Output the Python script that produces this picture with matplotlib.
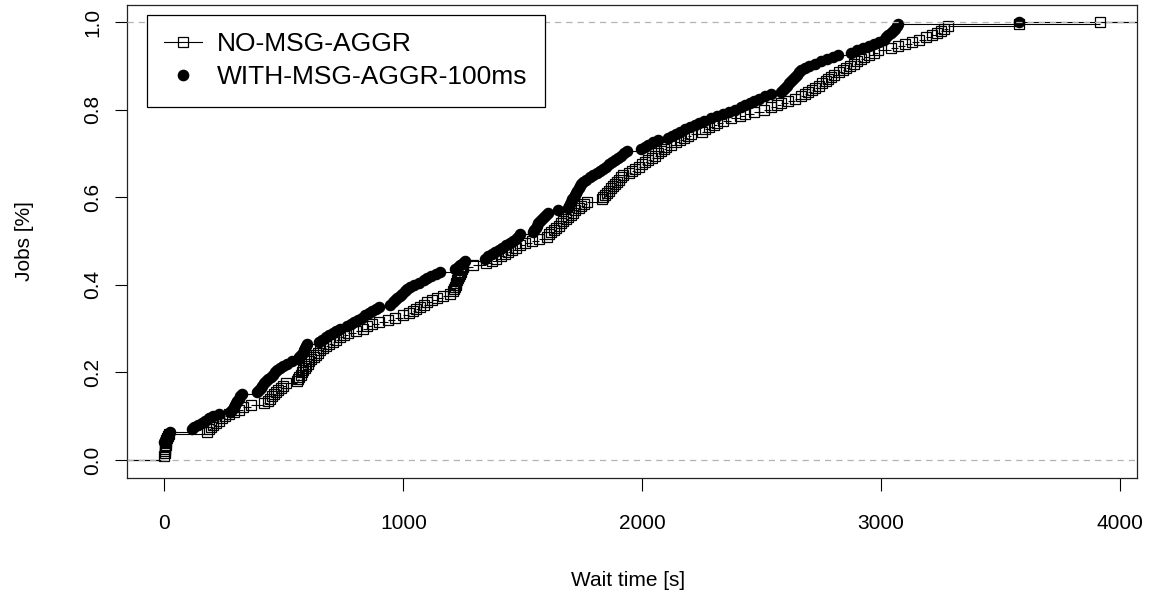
import numpy as np
import matplotlib
matplotlib.use("Agg")
import matplotlib.pyplot as plt
from matplotlib.lines import Line2D

# ---- data: sorted wait times [s] ----
no_aggr = [
    0, 0, 1, 2, 3, 4, 5, 6, 8, 10, 13, 17,
    178, 186, 195, 204, 215, 228, 242,
    255, 270, 290, 310, 328,
    362, 415,
    432, 440, 450, 458, 468, 476, 486, 498, 510,
    556, 560, 565, 570, 576, 582, 588, 594, 600,
    606, 615, 624, 633, 642, 652, 662, 675, 690, 705, 720, 734,
    750, 770, 800, 830, 850, 870,
    900, 935, 965, 1000, 1025,
    1040, 1055, 1070, 1085, 1100, 1120, 1140, 1165, 1195,
    1210, 1213, 1216, 1219, 1222, 1226, 1230, 1234, 1238, 1242, 1246, 1250,
    1290, 1345,
    1370, 1390, 1410, 1425, 1440, 1455, 1470, 1488,
    1510, 1540, 1570, 1600,
    1610, 1620, 1630, 1640, 1650, 1660, 1670, 1680, 1690, 1700, 1710, 1720,
    1735, 1745, 1755, 1770,
    1830, 1838, 1846, 1854, 1862, 1870, 1878, 1886, 1894, 1902, 1910, 1920,
    1945, 1958, 1970, 1985, 2000, 2012, 2025, 2040, 2052, 2065, 2078, 2090,
    2100, 2120, 2140, 2160, 2175, 2190, 2204,
    2250, 2265, 2280, 2300, 2315,
    2340, 2370, 2410,
    2430, 2470, 2510, 2540, 2565,
    2580, 2610, 2640, 2665,
    2680, 2695, 2710, 2725, 2740, 2755, 2770, 2780, 2790, 2805,
    2825, 2840, 2855, 2870, 2885, 2900, 2915, 2930, 2950, 2970, 2988,
    3040, 3070, 3100, 3130, 3160, 3190, 3215, 3235, 3250, 3265, 3280,
    3580, 3915,
]

with_aggr = [
    0, 0, 0, 0, 0, 0, 0, 0, 2, 5, 9, 15, 22,
    115, 125, 140, 155, 170, 185, 205, 228,
    275, 282, 290, 296, 300, 304, 310, 318, 326,
    388, 395, 402, 410, 418, 426, 435, 444, 453, 462, 472, 484, 498, 515, 535,
    558, 565, 572, 578, 583, 588, 593, 597,
    645, 660, 675, 690, 705, 720, 735,
    765, 780, 795, 810, 825, 840, 855, 870, 885, 900,
    945, 955, 965, 975, 985, 995, 1005, 1015, 1028,
    1045, 1065, 1085, 1100, 1115, 1135, 1152,
    1218, 1228, 1238, 1248, 1258,
    1340, 1355, 1370, 1385, 1400, 1415, 1430, 1445, 1458, 1470, 1480, 1490,
    1542, 1548, 1554, 1560, 1566, 1572, 1580, 1588, 1596, 1604,
    1646,
    1688, 1693, 1698, 1703, 1708, 1713, 1718, 1723, 1728, 1734, 1740, 1746, 1754,
    1765, 1780, 1795, 1810, 1822, 1835, 1848, 1860, 1872, 1885, 1898, 1910,
    1925, 1938,
    1995, 2010, 2025, 2045, 2065,
    2108, 2125, 2140, 2160, 2180, 2200, 2220, 2240, 2258,
    2290, 2315, 2340, 2365, 2390, 2412,
    2430, 2450, 2470, 2490, 2515, 2538,
    2582, 2590, 2598, 2606, 2614, 2622, 2630, 2640, 2650, 2658, 2666,
    2680, 2700, 2725, 2750, 2775, 2800, 2820,
    2875, 2900, 2925, 2950, 2970, 2990, 3012,
    3020, 3030, 3040, 3050, 3058, 3065, 3072,
    3580,
]

series_labels = ["NO-MSG-AGGR", "WITH-MSG-AGGR-100ms"]
x_ticks = [0, 1000, 2000, 3000, 4000]
y_ticks = [0.0, 0.2, 0.4, 0.6, 0.8, 1.0]
x_label = "Wait time [s]"
y_label = "Jobs [%]"

plt.rcParams['font.family'] = ['Liberation Sans', 'DejaVu Sans']
FS = 15
FS_LEG = 19

W, H = 1149, 596
fig = plt.figure(figsize=(W / 100, H / 100), dpi=100)
ax_l, ax_r, ax_t, ax_b = 127, 1137, 4.5, 477.5
ax = fig.add_axes([ax_l / W, 1 - ax_b / H, (ax_r - ax_l) / W, (ax_b - ax_t) / H])

XLIM = (-157, 4072)
YLIM = (-0.04, 1.04)

SQ_MS = 7.8
DOT_MS = 7.4


def ecdf_plot(ax, data, marker, mfc, ms, z):
    xs = np.sort(np.asarray(data, dtype=float))
    n = len(xs)
    u, cnt = np.unique(xs, return_counts=True)
    y = np.cumsum(cnt) / n
    # horizontal step segments
    left = np.concatenate([[XLIM[0] - 500], u])
    right = np.concatenate([u, [XLIM[1] + 500]])
    lev = np.concatenate([[0.0], y])
    ax.hlines(lev, left, right, colors='black', linewidth=0.8, zorder=z)
    ax.plot(u, y, linestyle='none', marker=marker, markersize=ms,
            markerfacecolor=mfc, markeredgecolor='black', markeredgewidth=0.9,
            zorder=z + 0.5)


ecdf_plot(ax, no_aggr, 's', 'none', SQ_MS, 2)
ecdf_plot(ax, with_aggr, 'o', 'black', DOT_MS, 3)

for yy in (0.0, 1.0):
    ax.axhline(yy, color='#B3B3B3', linestyle=(0, (5, 4)), linewidth=0.9, zorder=4)

ax.set_xlim(*XLIM)
ax.set_ylim(*YLIM)
ax.set_xticks(x_ticks)
ax.set_xticklabels([str(t) for t in x_ticks], fontsize=FS)
ax.set_yticks(y_ticks)
ax.set_yticklabels(["%.1f" % t for t in y_ticks], fontsize=FS, rotation=90, va='center')
ax.tick_params(axis='both', direction='out', length=9, width=0.8, color='black')
ax.tick_params(axis='x', pad=17)
ax.tick_params(axis='y', pad=9)
for s in ax.spines.values():
    s.set_linewidth(0.9)
    s.set_color('#222222')

fig.text(628 / W, 1 - 580 / H, x_label, ha='center', va='center', fontsize=FS)
fig.text(25 / W, 1 - 241 / H, y_label, ha='center', va='center', fontsize=FS, rotation=90)

handles = [
    Line2D([], [], color='black', linewidth=0.8, marker='s', markersize=SQ_MS,
           markerfacecolor='none', markeredgecolor='black', markeredgewidth=0.9),
    Line2D([], [], color='black', linestyle='none', marker='o', markersize=DOT_MS,
           markerfacecolor='black', markeredgecolor='black'),
]
leg = ax.legend(handles, series_labels, loc='upper left',
                bbox_to_anchor=((147 - ax_l) / (ax_r - ax_l), (ax_b - 15) / (ax_b - ax_t)),
                borderaxespad=0, fontsize=FS_LEG, frameon=True, fancybox=False,
                edgecolor='black', framealpha=1, handlelength=1.45, handletextpad=0.55,
                borderpad=0.65, labelspacing=0.35)
leg.get_frame().set_linewidth(0.9)
leg.set_zorder(10)

fig.savefig("out.png", dpi=100)
